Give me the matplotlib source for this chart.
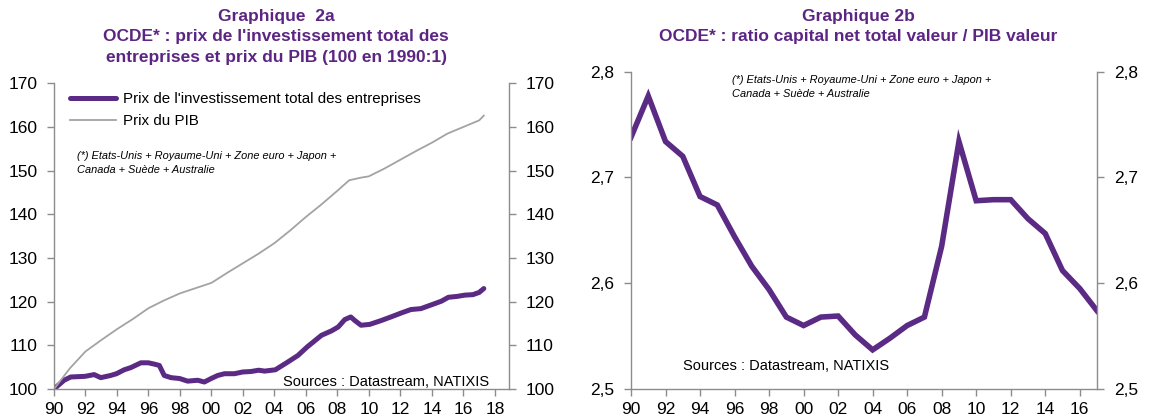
import matplotlib
matplotlib.use('Agg')
import matplotlib.pyplot as plt

plt.rcParams['font.family'] = ['Liberation Sans', 'DejaVu Sans']

# --- donnees ---
# Graphique 2a : prix de l'investissement (semestriel / irregulier)
inv_years = [1990.0, 1990.64, 1991.06, 1991.97, 1992.55, 1992.97, 1993.6, 1993.97, 1994.46,
             1994.88, 1995.52, 1995.99, 1996.37, 1996.69, 1997.0, 1997.43, 1997.98, 1998.49,
             1999.13, 1999.55, 1999.98, 2000.4, 2000.83, 2001.46, 2001.99, 2002.5, 2003.0,
             2003.38, 2004.06, 2004.86, 2005.5, 2006.07, 2006.99, 2007.62, 2008.05, 2008.47,
             2008.85, 2009.1, 2009.5, 2010.06, 2010.8, 2011.4, 2012.05, 2012.67, 2013.3,
             2014.07, 2014.6, 2015.05, 2015.6, 2016.1, 2016.6, 2017.0, 2017.3]
inv_values = [100.0, 102.0, 102.75, 102.9, 103.3, 102.6, 103.1, 103.5, 104.4,
              104.9, 106.0, 106.0, 105.7, 105.4, 103.1, 102.6, 102.4, 101.8,
              102.0, 101.6, 102.4, 103.1, 103.5, 103.5, 103.9, 104.0, 104.3,
              104.1, 104.4, 106.2, 107.7, 109.6, 112.3, 113.3, 114.2, 115.9,
              116.5, 115.7, 114.6, 114.8, 115.7, 116.5, 117.4, 118.2, 118.4,
              119.4, 120.1, 121.0, 121.2, 121.5, 121.6, 122.1, 123.0]

# Prix du PIB
pib_years = [1990, 1991, 1992, 1993, 1994, 1995, 1996, 1997, 1998, 1999, 2000, 2001, 2002,
             2003, 2004, 2005, 2006, 2007, 2008, 2008.75, 2009.5, 2010, 2011, 2012, 2013,
             2014, 2015, 2016, 2017, 2017.3]
pib_values = [100.0, 104.7, 108.6, 111.2, 113.7, 116.0, 118.5, 120.3, 121.9, 123.1, 124.3,
              126.6, 128.8, 131.0, 133.4, 136.3, 139.4, 142.3, 145.4, 147.8, 148.4, 148.7,
              150.5, 152.5, 154.5, 156.4, 158.5, 160.0, 161.5, 162.6]

# Graphique 2b : ratio capital net / PIB (annuel)
ratio_years = list(range(1990, 2018))
ratio_values = [2.738, 2.777, 2.734, 2.720, 2.682, 2.674, 2.644, 2.616, 2.594, 2.568,
                2.560, 2.568, 2.569, 2.551, 2.537, 2.548, 2.560, 2.568, 2.635, 2.734,
                2.678, 2.679, 2.679, 2.661, 2.647, 2.612, 2.595, 2.574]

left_ticks = list(range(1990, 2019, 2))
right_ticks = list(range(1990, 2017, 2))
tick_lab = lambda yrs: ['%02d' % (y % 100) for y in yrs]

purple = '#5B2A84'
title_col = '#5C2583'
grey_line = '#A3A3A3'
axis_col = '#8C8C8C'
note = "(*) Etats-Unis + Royaume-Uni + Zone euro + Japon +\nCanada + Suède + Australie"

fig = plt.figure(figsize=(11.52, 4.19), dpi=100)
W, H = 1152, 419


def style(ax):
    ax.spines['top'].set_visible(False)
    for s in ['left', 'right', 'bottom']:
        ax.spines[s].set_color(axis_col)
        ax.spines[s].set_linewidth(1.0)
    ax.tick_params(axis='both', direction='out', length=5, width=1, color=axis_col,
                   labelsize=12.5, labelcolor='black')
    ax.tick_params(axis='y', left=True, right=True, labelleft=True, labelright=True, pad=7)
    ax.tick_params(axis='x', pad=4)


# ---- Graphique 2a ----
ax1 = fig.add_axes([54 / W, 1 - 389 / H, (509 - 54) / W, (389 - 83.3) / H])
ax1.plot(inv_years, inv_values, color=purple, lw=3.6, label="Prix de l'investissement total des entreprises",
         solid_capstyle='round')
ax1.plot(pib_years, pib_values, color=grey_line, lw=1.3, label='Prix du PIB')
ax1.set_xlim(1990, 2018.9)
ax1.set_ylim(100, 170)
ax1.set_yticks(range(100, 171, 10))
ax1.set_xticks(left_ticks)
ax1.set_xticklabels(tick_lab(left_ticks))
style(ax1)
ax1.legend(loc='upper left', bbox_to_anchor=(0.016, 1.0), frameon=False, fontsize=10.9,
           handlelength=3.0, handletextpad=0.5, labelspacing=0.5, borderaxespad=0.2)
fig.text(77 / W, 1 - 163 / H, note, fontsize=7.9, style='italic', va='center', linespacing=1.38)
fig.text(489 / W, 1 - 382 / H, 'Sources : Datastream, NATIXIS', ha='right', va='center', fontsize=10.5)

fig.text(276 / W, 1 - 37 / H,
         "Graphique  2a\nOCDE* : prix de l'investissement total des\nentreprises et prix du PIB (100 en 1990:1)",
         ha='center', va='center', fontsize=12.5, fontweight='bold', color=title_col, linespacing=1.42)

# ---- Graphique 2b ----
ax2 = fig.add_axes([631 / W, 1 - 389 / H, (1097 - 631) / W, (389 - 71.7) / H])
ax2.plot(ratio_years, ratio_values, color=purple, lw=4.0, solid_joinstyle='miter')
ax2.set_xlim(1990, 2017)
ax2.set_ylim(2.5, 2.8)
ax2.set_yticks([2.5, 2.6, 2.7, 2.8])
ax2.set_yticklabels(['2,5', '2,6', '2,7', '2,8'])
ax2.set_xticks(right_ticks)
ax2.set_xticklabels(tick_lab(right_ticks))
style(ax2)
fig.text(732 / W, 1 - 87 / H, note, fontsize=7.9, style='italic', va='center', linespacing=1.38)
fig.text(683 / W, 1 - 366 / H, 'Sources : Datastream, NATIXIS', ha='left', va='center', fontsize=10.5)

fig.text(858 / W, 1 - 26.5 / H, "Graphique 2b\nOCDE* : ratio capital net total valeur / PIB valeur",
         ha='center', va='center', fontsize=12.5, fontweight='bold', color=title_col, linespacing=1.42)

fig.savefig('out.png', dpi=100)
